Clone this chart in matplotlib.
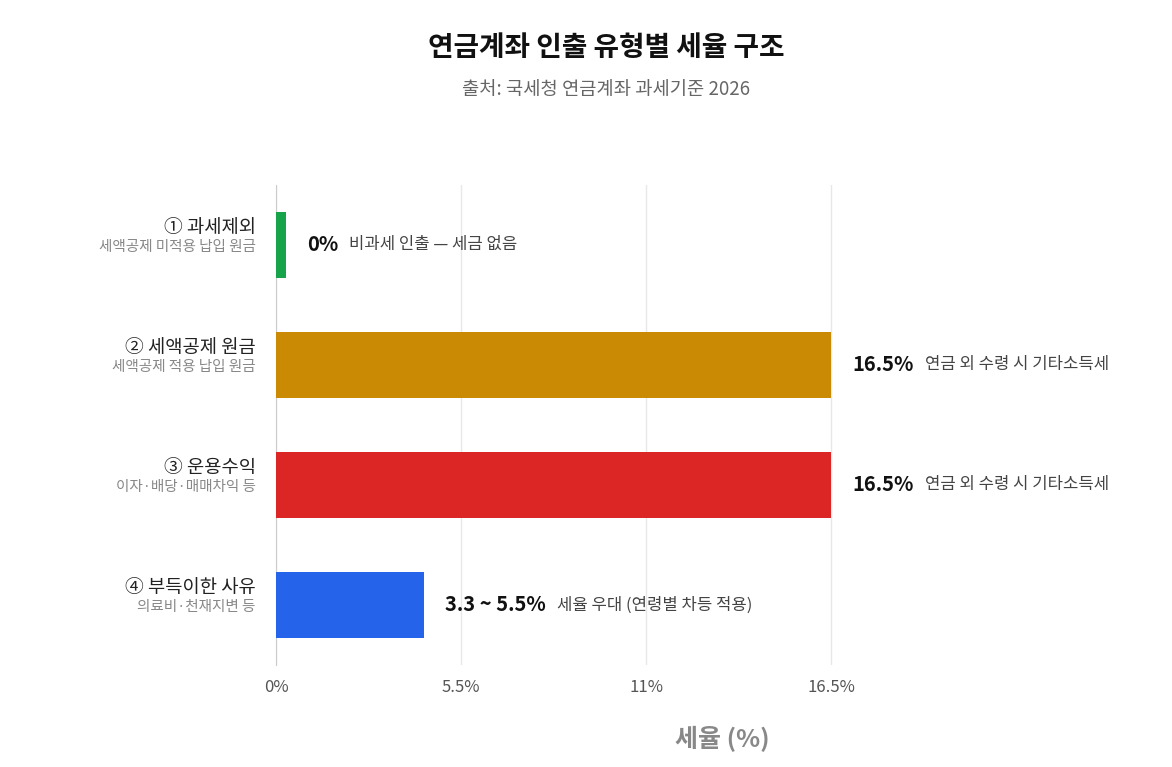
import matplotlib
matplotlib.use('Agg')
import matplotlib.pyplot as plt

plt.rcParams['font.family'] = ['Noto Sans CJK KR', 'DejaVu Sans']

# data
labels = ['① 과세제외', '② 세액공제 원금', '③ 운용수익', '④ 부득이한 사유']
sublabels = ['세액공제 미적용 납입 원금', '세액공제 적용 납입 원금', '이자·배당·매매차익 등', '의료비·천재지변 등']
rates = [0.3, 16.5, 16.5, 4.4]   # 0% bar drawn as a sliver
value_text = ['0%', '16.5%', '16.5%', '3.3 ~ 5.5%']
desc_text = ['비과세 인출 — 세금 없음', '연금 외 수령 시 기타소득세', '연금 외 수령 시 기타소득세', '세율 우대 (연령별 차등 적용)']
colors = ['#16a34a', '#ca8a04', '#dc2626', '#2563eb']
ticks = [0, 5.5, 11, 16.5]
tick_labels = ['0%', '5.5%', '11%', '16.5%']

fig = plt.figure(figsize=(11.72, 7.67), dpi=100)
ax = fig.add_axes([0.2355, 0.133, 0.761, 0.626])

y = list(range(len(labels)))
ax.barh(y, rates, height=0.55, color=colors, zorder=3)
ax.set_ylim(3.5, -0.5)
ax.set_xlim(0, 26.5)
ax.set_xticks(ticks)
ax.set_xticklabels(tick_labels, fontsize=12, color='#555555')
ax.set_yticks([])
ax.grid(axis='x', color='#e8e8e8', linewidth=1, zorder=0)
for s in ['top', 'right', 'bottom']:
    ax.spines[s].set_visible(False)
ax.spines['left'].set_color('#cccccc')
ax.tick_params(axis='x', length=0, pad=10)
ax.set_xlabel('세율 (%)', fontsize=18, fontweight='bold', color='#888888', labelpad=22)

fig.canvas.draw()
r = fig.canvas.get_renderer()
for i in y:
    ax.text(-0.6, i - 0.06, labels[i], ha='right', va='bottom', fontsize=13.5, color='#222222')
    ax.text(-0.6, i - 0.04, sublabels[i], ha='right', va='top', fontsize=10.5, color='#888888')
    t = ax.annotate(value_text[i], (rates[i], i), xytext=(15, 0), textcoords='offset points',
                    ha='left', va='center', fontsize=14.5, fontweight='bold', color='#111111')
    bb = t.get_window_extent(r)
    x_end = ax.transData.inverted().transform((bb.x1, 0))[0]
    ax.annotate(desc_text[i], (x_end, i), xytext=(8, 0), textcoords='offset points',
                ha='left', va='center', fontsize=12, color='#444444')

fig.text(0.517, 0.937, '연금계좌 인출 유형별 세율 구조', ha='center', va='center',
         fontsize=20, fontweight='bold', color='#111111')
fig.text(0.517, 0.883, '출처: 국세청 연금계좌 과세기준 2026', ha='center', va='center',
         fontsize=13.5, color='#666666')

fig.savefig('out.png', dpi=100)
